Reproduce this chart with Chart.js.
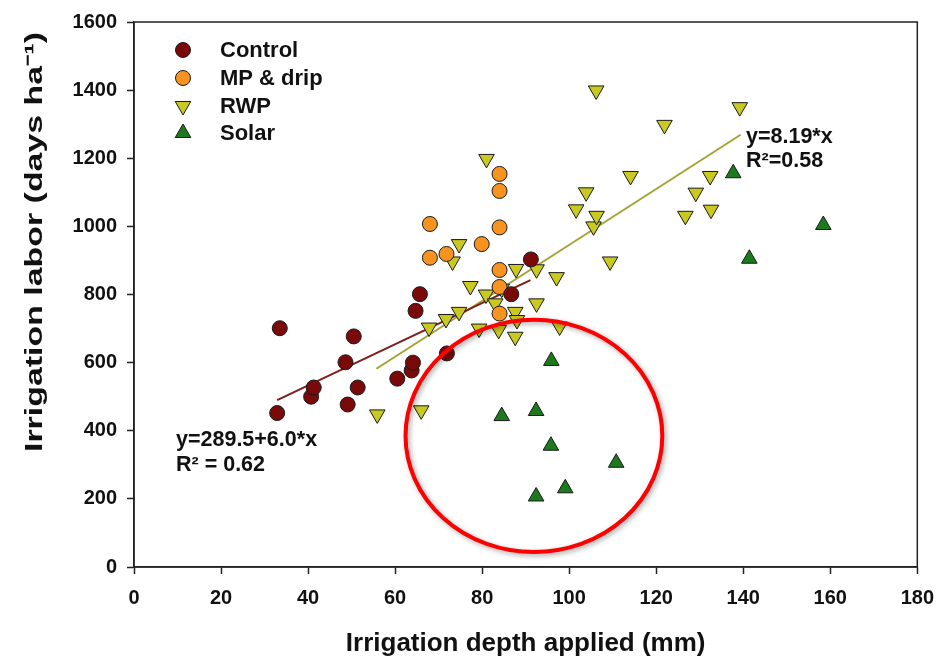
<!DOCTYPE html>
<html>
<head>
<meta charset="utf-8">
<script src="https://cdn.jsdelivr.net/npm/chart.js@4.4.1/dist/chart.umd.min.js"></script>
<style>
  html, body { margin: 0; padding: 0; background: #fff; }
  #wrap { width: 946px; height: 660px; }
</style>
</head>
<body>
<div id="wrap"><canvas id="laborChart" width="946" height="660"></canvas></div>
<script>
// Irrigation depth (mm) vs irrigation labor (days/ha)
const controlX = [32.9, 33.5, 40.7, 41.3, 49.1, 48.6, 50.5, 51.4, 60.5, 63.8, 64.1, 64.7, 65.7, 71.9, 86.7, 91.2];
const controlY = [452, 701, 500, 527, 477, 601, 677, 527, 553, 577, 600, 752, 801, 627, 801, 903];

const mpDripX = [68.0, 68.0, 71.8, 79.9, 84.0, 84.0, 84.0, 84.0, 84.0, 84.0];
const mpDripY = [1007, 908, 919, 948, 1154, 1104, 997, 872, 822, 744];

const rwpX = [55.9, 66.0, 67.8, 71.7, 73.2, 74.7, 74.7, 77.3, 79.3, 80.9, 81.0, 83.0, 83.8, 84.5, 87.6, 88.0,
              87.6, 87.8, 92.5, 92.5, 97.1, 97.8, 101.6, 103.9, 105.6, 106.3, 106.2, 109.4, 114.1, 121.9,
              126.7, 129.1, 132.4, 132.6, 139.2];
const rwpY = [448, 460, 703, 728, 897, 948, 749, 825, 700, 800, 1198, 774, 696, 817, 749, 725,
              676, 875, 874, 774, 851, 706, 1050, 1100, 1000, 1031, 1399, 897, 1148, 1298,
              1031, 1099, 1148, 1049, 1350];

const solarX = [84.5, 92.4, 95.9, 95.8, 110.8, 99.1, 92.4, 137.7, 158.4, 141.4];
const solarY = [443, 458, 605, 356, 306, 231, 207, 1156, 1004, 905];

// fitted lines (end points as drawn)
const controlFitX = [32.9, 91.1];
const controlFitY = [490, 842];
const rwpFitX = [55.7, 139.4];
const rwpFitY = [582, 1269];

const xTicks = [0, 20, 40, 60, 80, 100, 120, 140, 160, 180];
const yTicks = [0, 200, 400, 600, 800, 1000, 1200, 1400, 1600];

const seriesNames = ['Control', 'MP & drip', 'RWP', 'Solar'];
const yTitle = 'Irrigation labor (days ha\u207B\u00B9)';

// red circle drawn round the solar points (centre and radii in data units)
const circleCenter = [91.9, 385];
const circleRadius = [29.5, 341];

const toPoints = (xs, ys) => xs.map((x, i) => ({ x: x, y: ys[i] }));

const FONT = '"Liberation Sans", Arial, sans-serif';

// frame, red circle, equations, y title and legend
const extras = {
    id: 'extras',
    beforeDatasetsDraw(chart) {
        const { ctx, chartArea: a } = chart;
        ctx.save();
        ctx.strokeStyle = '#222';
        ctx.lineWidth = 1.5;
        ctx.strokeRect(a.left, a.top, a.right - a.left, a.bottom - a.top);

        // y title, stretched along its length like the original
        ctx.fillStyle = '#111';
        ctx.font = 'bold 24px ' + FONT;
        const w = ctx.measureText(yTitle).width;
        ctx.translate(35, 242);
        ctx.rotate(-Math.PI / 2);
        ctx.scale(420 / w, 1);
        ctx.textAlign = 'center';
        ctx.textBaseline = 'middle';
        ctx.fillText(yTitle, 0, 0);
        ctx.restore();
    },
    afterDatasetsDraw(chart) {
        const { ctx, scales: { x, y } } = chart;
        ctx.save();

        // annotation ellipse
        const cx = x.getPixelForValue(circleCenter[0]);
        const cy = y.getPixelForValue(circleCenter[1]);
        const rx = x.getPixelForValue(circleCenter[0] + circleRadius[0]) - cx;
        const ry = cy - y.getPixelForValue(circleCenter[1] + circleRadius[1]);
        ctx.shadowColor = 'rgba(0,0,0,0.35)';
        ctx.shadowBlur = 5;
        ctx.shadowOffsetX = 2;
        ctx.shadowOffsetY = 2;
        ctx.strokeStyle = '#ff0000';
        ctx.lineWidth = 4;
        ctx.beginPath();
        ctx.ellipse(cx, cy, rx, ry, 0, 0, Math.PI * 2);
        ctx.stroke();
        ctx.shadowColor = 'transparent';

        // regression labels
        ctx.fillStyle = '#111';
        ctx.font = 'bold 21.5px ' + FONT;
        ctx.textAlign = 'left';
        ctx.textBaseline = 'alphabetic';
        ctx.fillText('y=8.19*x', 746, 143);
        ctx.fillText('R\u00B2=0.58', 746, 167);
        ctx.fillText('y=289.5+6.0*x', 176, 446);
        ctx.fillText('R\u00B2 = 0.62', 176, 471);

        // legend
        const rows = [50, 78, 106, 133];
        chart.data.datasets.slice(0, 4).forEach((ds, i) => {
            ctx.save();
            ctx.fillStyle = ds.backgroundColor;
            ctx.strokeStyle = ds.borderColor;
            ctx.lineWidth = 1;
            Chart.helpers.drawPoint(ctx, {
                pointStyle: ds.pointStyle,
                rotation: ds.pointRotation || 0,
                radius: ds.pointRadius,
                borderWidth: 1
            }, 183, rows[i]);
            ctx.restore();
            ctx.fillStyle = '#111';
            ctx.font = 'bold 22px ' + FONT;
            ctx.textBaseline = 'middle';
            ctx.fillText(seriesNames[i], 220, rows[i] + 1);
        });
        ctx.restore();
    }
};

const ctx = document.getElementById('laborChart').getContext('2d');

const laborChart = new Chart(ctx, {
    type: 'scatter',
    data: {
        datasets: [
            {
                label: 'Control',
                data: toPoints(controlX, controlY),
                pointStyle: 'circle',
                pointRadius: 7.5,
                backgroundColor: '#7a0a0a',
                borderColor: '#1a1a1a',
                borderWidth: 1
            },
            {
                label: 'MP & drip',
                data: toPoints(mpDripX, mpDripY),
                pointStyle: 'circle',
                pointRadius: 7.5,
                backgroundColor: '#f7931e',
                borderColor: '#1a1a1a',
                borderWidth: 1
            },
            {
                label: 'RWP',
                data: toPoints(rwpX, rwpY),
                pointStyle: 'triangle',
                pointRotation: 180,
                pointRadius: 9,
                backgroundColor: '#c9c920',
                borderColor: '#1a1a1a',
                borderWidth: 1
            },
            {
                label: 'Solar',
                data: toPoints(solarX, solarY),
                pointStyle: 'triangle',
                pointRadius: 9,
                backgroundColor: '#1b7a1b',
                borderColor: '#1a1a1a',
                borderWidth: 1
            },
            {
                label: 'Control fit',
                data: toPoints(controlFitX, controlFitY),
                showLine: true,
                pointRadius: 0,
                borderColor: '#7f1d1d',
                borderWidth: 2,
                order: 5
            },
            {
                label: 'RWP fit',
                data: toPoints(rwpFitX, rwpFitY),
                showLine: true,
                pointRadius: 0,
                borderColor: '#a3a332',
                borderWidth: 2,
                order: 5
            }
        ]
    },
    options: {
        responsive: false,
        animation: false,
        layout: { padding: { top: 18, right: 25, left: 0, bottom: 0 } },
        plugins: {
            legend: { display: false },
            tooltip: { enabled: false }
        },
        scales: {
            x: {
                type: 'linear',
                min: 0,
                max: 180,
                afterBuildTicks: (scale) => { scale.ticks = xTicks.map(v => ({ value: v })); },
                afterFit: (scale) => { scale.height = 93; },
                grid: { drawOnChartArea: false, tickLength: 7, tickColor: '#222', tickWidth: 1.5 },
                border: { color: '#222', width: 1.5 },
                ticks: {
                    color: '#111',
                    padding: 12,
                    maxRotation: 0,
                    callback: (v) => String(v),
                    font: { family: FONT, size: 20, weight: 'bold' }
                },
                title: {
                    display: true,
                    text: 'Irrigation depth applied (mm)',
                    color: '#111',
                    padding: { top: 0, bottom: 1 },
                    font: { family: FONT, size: 26, weight: 'bold' }
                }
            },
            y: {
                type: 'linear',
                min: 0,
                max: 1600,
                afterBuildTicks: (scale) => { scale.ticks = yTicks.map(v => ({ value: v })); },
                afterFit: (scale) => { scale.width = 134; },
                grid: { drawOnChartArea: false, tickLength: 7, tickColor: '#222', tickWidth: 1.5 },
                border: { color: '#222', width: 1.5 },
                ticks: {
                    color: '#111',
                    padding: 10,
                    callback: (v) => String(v),
                    font: { family: FONT, size: 20, weight: 'bold' }
                },
                title: { display: false }
            }
        }
    },
    plugins: [extras]
});
</script>
</body>
</html>
